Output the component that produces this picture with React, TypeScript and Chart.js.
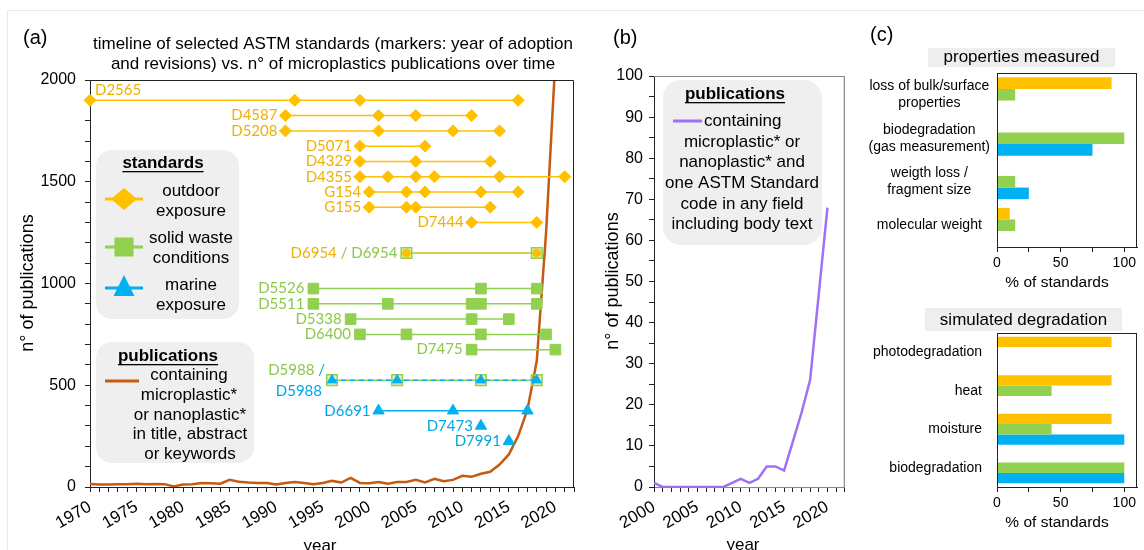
import React, { useEffect, useRef } from "react";
import { Chart, registerables } from "chart.js";

Chart.register(...registerables);

// ---------- DATA ----------
// (a) publications containing microplastic*/nanoplastic* per year
const pubYears = [
  1970, 1971, 1972, 1973, 1974, 1975, 1976, 1977, 1978, 1979,
  1980, 1981, 1982, 1983, 1984, 1985, 1986, 1987, 1988, 1989,
  1990, 1991, 1992, 1993, 1994, 1995, 1996, 1997, 1998, 1999,
  2000, 2001, 2002, 2003, 2004, 2005, 2006, 2007, 2008, 2009,
  2010, 2011, 2012, 2013, 2014, 2015, 2016, 2017, 2018, 2019, 2020,
];
const pubCounts = [
  15, 12, 12, 13, 14, 16, 14, 15, 14, 3,
  12, 14, 20, 18, 16, 35, 26, 22, 20, 20,
  12, 20, 24, 20, 14, 20, 30, 22, 45, 20,
  18, 25, 16, 25, 25, 35, 22, 40, 28, 35,
  55, 50, 65, 75, 110, 160, 250, 380, 620, 1250, 2100,
];

// (a) outdoor exposure standards
const outdoorCodes = ["D2565", "D4587", "D5208", "D5071", "D4329", "D4355", "G154", "G155", "D7444"];
const outdoorRows = [1900, 1825, 1750, 1675, 1600, 1525, 1450, 1375, 1300];
const outdoorYears = [
  [1970, 1992, 1999, 2016],
  [1991, 2001, 2005, 2011],
  [1991, 2001, 2009, 2014],
  [1999, 2006],
  [1999, 2005, 2013],
  [1999, 2002, 2005, 2007, 2014, 2021],
  [2000, 2004, 2006, 2012, 2016],
  [2000, 2004, 2005, 2013],
  [2011, 2018],
];
// shared outdoor / solid waste
const sharedOSCode = "D6954";
const sharedOSRow = 1150;
const sharedOSYears = [2004, 2018];
// solid waste conditions
const solidCodes = ["D5526", "D5511", "D5338", "D6400", "D7475"];
const solidRows = [975, 900, 825, 750, 675];
const solidYears = [
  [1994, 2012, 2018],
  [1994, 2002, 2011, 2012, 2018],
  [1998, 2011, 2015],
  [1999, 2004, 2012, 2019],
  [2011, 2020],
];
// shared solid waste / marine
const sharedSMCode = "D5988";
const sharedSMRow = 525;
const sharedSMYears = [1996, 2003, 2012, 2018];
// marine exposure
const marineCodes = ["D6691", "D7473", "D7991"];
const marineRows = [375, 300, 225];
const marineYears = [[2001, 2009, 2017], [2012], [2015]];

// (b) publications with an ASTM standard code
const bYears = [2000, 2001, 2002, 2003, 2004, 2005, 2006, 2007, 2008, 2009, 2010,
  2011, 2012, 2013, 2014, 2015, 2016, 2017, 2018, 2019, 2020];
const bCounts = [1, 0, 0, 0, 0, 0, 0, 0, 0, 1, 2, 1, 2, 5, 5, 4, 11, 18, 26, 47, 68];

// (c) properties measured
const propCategories = [["loss of bulk/surface", "properties"], ["biodegradation", "(gas measurement)"], ["weigth loss /", "fragment size"], ["molecular weight"]];
const propOutdoor = [90, 0, 0, 10];
const propSolid = [14.3, 100, 14.3, 14.3];
const propMarine = [0, 75, 25, 0];

// (c) simulated degradation
const simCategories = ["photodegradation", "heat", "moisture", "biodegradation"];
const simOutdoor = [90, 90, 90, 0];
const simSolid = [0, 42.9, 42.9, 100];
const simMarine = [0, 0, 100, 100];

// ---------- STYLE ----------
const SANS = "'Liberation Sans', Arial, sans-serif";
const CODEF = "Lato, 'Liberation Sans', sans-serif";
const ORANGE = "#FFC000";
const ORANGE_T = "#F0B000";
const GREEN = "#92D050";
const GREEN_T = "#8CC84B";
const BLUE = "#00B0F0";
const BLUE_T = "#00A6E6";
const BROWN = "#C55A11";
const PURPLE = "#A070F5";
const BOXG = "#EFEFEF";
const AXIS = "#222222";

Chart.defaults.font.family = SANS;
Chart.defaults.color = "#000";

function rr(ctx: any, x: number, y: number, w: number, h: number, r: number) {
  ctx.beginPath();
  ctx.moveTo(x + r, y);
  ctx.arcTo(x + w, y, x + w, y + h, r);
  ctx.arcTo(x + w, y + h, x, y + h, r);
  ctx.arcTo(x, y + h, x, y, r);
  ctx.arcTo(x, y, x + w, y, r);
  ctx.closePath();
}

function txt(ctx: any, s: string, x: number, y: number, font: string, color: string, align = "center") {
  ctx.font = font;
  ctx.fillStyle = color;
  ctx.textAlign = align;
  ctx.textBaseline = "middle";
  ctx.fillText(s, x, y);
  return ctx.measureText(s).width;
}

function uline(ctx: any, s: string, x: number, y: number, font: string) {
  const w = txt(ctx, s, x, y, font, "#000");
  ctx.fillRect(x - w / 2, y + 8, w, 1.3);
}

function vtxt(ctx: any, s: string, x: number, y: number, font: string) {
  ctx.save();
  ctx.translate(x, y);
  ctx.rotate(-Math.PI / 2);
  txt(ctx, s, 0, 0, font, "#000");
  ctx.restore();
}

function hline(ctx: any, x0: number, x1: number, y: number, color: string, w: number) {
  ctx.strokeStyle = color;
  ctx.lineWidth = w;
  ctx.beginPath();
  ctx.moveTo(x0, y);
  ctx.lineTo(x1, y);
  ctx.stroke();
}

const panelAPlugin = {
  id: "panelA",
  afterDatasetsDraw(chart: any) {
    const { ctx, chartArea: ca, scales } = chart;
    const xs = scales.x;
    const ys = scales.y;
    ctx.save();
    ctx.strokeStyle = AXIS;
    ctx.lineWidth = 1;
    ctx.beginPath();
    ctx.moveTo(ca.left, ca.top + 0.5);
    ctx.lineTo(ca.right - 0.5, ca.top + 0.5);
    ctx.lineTo(ca.right - 0.5, ca.bottom);
    ctx.stroke();

    const f = `15px ${CODEF}`;
    const px = (yr: number) => xs.getPixelForValue(yr);
    const py = (v: number) => ys.getPixelForValue(v);
    txt(ctx, outdoorCodes[0], px(outdoorYears[0][0]) + 5, py(outdoorRows[0]) - 10, f, ORANGE_T, "left");
    for (let i = 1; i < outdoorCodes.length; i++) {
      txt(ctx, outdoorCodes[i], px(outdoorYears[i][0]) - 8, py(outdoorRows[i]), f, ORANGE_T, "right");
    }
    // D6954 / D6954
    let x = px(sharedOSYears[0]) - 9;
    const y1 = py(sharedOSRow);
    x -= txt(ctx, sharedOSCode, x, y1, f, GREEN_T, "right");
    x -= txt(ctx, " / ", x, y1, f, GREEN_T, "right");
    txt(ctx, sharedOSCode, x, y1, f, ORANGE_T, "right");
    for (let i = 0; i < solidCodes.length; i++) {
      txt(ctx, solidCodes[i], px(solidYears[i][0]) - 9, py(solidRows[i]), f, GREEN_T, "right");
    }
    // D5988 / D5988
    let x2 = px(sharedSMYears[0]) - 7;
    const y2 = py(sharedSMRow);
    x2 -= txt(ctx, " /", x2, y2 - 10, f, BLUE_T, "right");
    txt(ctx, sharedSMCode, x2, y2 - 10, f, GREEN_T, "right");
    txt(ctx, sharedSMCode, px(sharedSMYears[0]) - 10, y2 + 11, f, BLUE_T, "right");
    for (let i = 0; i < marineCodes.length; i++) {
      txt(ctx, marineCodes[i], px(marineYears[i][0]) - 8, py(marineRows[i]), f, BLUE_T, "right");
    }
    ctx.restore();
  },
  afterDraw(chart: any) {
    const { ctx } = chart;
    ctx.save();
    txt(ctx, "(a)", 23, 38, `20px ${SANS}`, "#000", "left");
    txt(ctx, "timeline of selected ASTM standards (markers: year of adoption", 333, 44, `17px ${SANS}`, "#000");
    txt(ctx, "and revisions) vs. n° of microplastics publications over time", 333, 64, `17px ${SANS}`, "#000");
    vtxt(ctx, "n° of publications", 28, 283, `18px ${SANS}`);
    txt(ctx, "year", 320, 546, `17px ${SANS}`, "#000");

    const L = `17px ${SANS}`;
    const B = `bold 17px ${SANS}`;
    // standards legend
    ctx.fillStyle = BOXG;
    rr(ctx, 96, 150, 143, 169, 16);
    ctx.fill();
    uline(ctx, "standards", 163, 163, B);
    hline(ctx, 105, 143, 199, ORANGE, 3);
    ctx.fillStyle = ORANGE;
    ctx.beginPath();
    ctx.moveTo(124, 188); ctx.lineTo(137, 199); ctx.lineTo(124, 210); ctx.lineTo(111, 199);
    ctx.closePath(); ctx.fill();
    txt(ctx, "outdoor", 191, 191, L, "#000");
    txt(ctx, "exposure", 191, 211, L, "#000");
    hline(ctx, 105, 143, 247, GREEN, 3);
    ctx.fillStyle = GREEN;
    ctx.fillRect(114.5, 237.5, 19, 19);
    txt(ctx, "solid waste", 191, 238, L, "#000");
    txt(ctx, "conditions", 191, 258, L, "#000");
    hline(ctx, 105, 143, 288, BLUE, 3);
    ctx.fillStyle = BLUE;
    ctx.beginPath();
    ctx.moveTo(124, 275); ctx.lineTo(134.5, 296); ctx.lineTo(113.5, 296);
    ctx.closePath(); ctx.fill();
    txt(ctx, "marine", 191, 285, L, "#000");
    txt(ctx, "exposure", 191, 305, L, "#000");

    // publications legend
    ctx.fillStyle = BOXG;
    rr(ctx, 96, 342, 158, 121, 16);
    ctx.fill();
    uline(ctx, "publications", 168, 356, B);
    hline(ctx, 105, 139, 381, BROWN, 3);
    txt(ctx, "containing", 189, 375, L, "#000");
    txt(ctx, "microplastic*", 189, 395, L, "#000");
    txt(ctx, "or nanoplastic*", 190, 415, L, "#000");
    txt(ctx, "in title, abstract", 190, 434, L, "#000");
    txt(ctx, "or keywords", 190, 454, L, "#000");
    ctx.restore();
  },
};

const panelBPlugin = {
  id: "panelB",
  afterDatasetsDraw(chart: any) {
    const { ctx, chartArea: ca } = chart;
    ctx.save();
    ctx.strokeStyle = "#888";
    ctx.lineWidth = 1.2;
    ctx.beginPath();
    ctx.moveTo(ca.left, ca.top + 0.5);
    ctx.lineTo(ca.right - 0.5, ca.top + 0.5);
    ctx.lineTo(ca.right - 0.5, ca.bottom);
    ctx.stroke();
    ctx.restore();
  },
  afterDraw(chart: any) {
    const { ctx } = chart;
    ctx.save();
    txt(ctx, "(b)", 13, 38, `20px ${SANS}`, "#000", "left");
    vtxt(ctx, "n° of publications", 13, 281, `18px ${SANS}`);
    txt(ctx, "year", 143, 545, `17px ${SANS}`, "#000");
    const L = `17px ${SANS}`;
    ctx.fillStyle = BOXG;
    rr(ctx, 63, 80, 159, 165, 18);
    ctx.fill();
    uline(ctx, "publications", 135, 94, `bold 17px ${SANS}`);
    hline(ctx, 73, 102, 121, PURPLE, 3);
    txt(ctx, "containing", 104, 121, L, "#000", "left");
    txt(ctx, "microplastic* or", 142, 142, L, "#000");
    txt(ctx, "nanoplastic* and", 142, 162.5, L, "#000");
    txt(ctx, "one ASTM Standard", 142, 183, L, "#000");
    txt(ctx, "code in any field", 142, 204, L, "#000");
    txt(ctx, "including body text", 142, 224.5, L, "#000");
    ctx.restore();
  },
};

function makeCPlugin(id: string, title: string, box: number[], titleY: number, axisTitleY: number, letter: boolean) {
  return {
    id,
    afterDatasetsDraw(chart: any) {
      const { ctx, chartArea: ca } = chart;
      ctx.save();
      ctx.strokeStyle = AXIS;
      ctx.lineWidth = 1;
      ctx.strokeRect(ca.left + 0.5, ca.top + 0.5, ca.right - ca.left - 1, ca.bottom - ca.top);
      ctx.restore();
    },
    afterDraw(chart: any) {
      const { ctx } = chart;
      ctx.save();
      if (letter) txt(ctx, "(c)", 10, 35, `20px ${SANS}`, "#000", "left");
      ctx.fillStyle = "#EEEEEE";
      ctx.fillRect(box[0], box[1], box[2], box[3]);
      txt(ctx, title, box[0] + box[2] / 2, titleY, `17px ${SANS}`, "#000");
      txt(ctx, "% of standards", 197, axisTitleY, `15.5px ${SANS}`, "#000");
      ctx.restore();
    },
  };
}

function yearTickScale(min: number, max: number, height: number) {
  return {
    type: "linear",
    min,
    max,
    afterFit: (s: any) => { s.height = height; },
    ticks: {
      stepSize: 1,
      autoSkip: false,
      minRotation: 30,
      maxRotation: 30,
      padding: 5,
      color: "#000",
      font: { size: 17 },
      callback: (v: any) => (v % 5 === 0 && v <= 2020 ? String(v) : ""),
    },
    grid: { drawOnChartArea: false, drawTicks: true, tickLength: 5, tickColor: AXIS },
    border: { color: AXIS },
  };
}

function stdDataset(years: number[], row: number, color: string, style: string, radius: number, extra: any = {}) {
  return {
    data: years.map((yr) => ({ x: yr, y: row })),
    borderColor: color,
    backgroundColor: color,
    borderWidth: 1.5,
    pointStyle: style,
    pointRadius: radius,
    pointHoverRadius: radius,
    pointBackgroundColor: color,
    pointBorderColor: color,
    pointBorderWidth: 1,
    clip: false,
    order: 2,
    ...extra,
  };
}

function barConfig(labels: any[], o: number[], s: number[], m: number[], topPad: number, xHeight: number, crossAlign: string, tickPad: number, plugin: any) {
  return {
    type: "bar",
    data: {
      labels,
      datasets: [
        { data: o, backgroundColor: ORANGE, borderWidth: 0 },
        { data: s, backgroundColor: GREEN, borderWidth: 0 },
        { data: m, backgroundColor: BLUE, borderWidth: 0 },
      ],
    },
    options: {
      indexAxis: "y",
      responsive: false,
      animation: false,
      events: [],
      datasets: { bar: { barPercentage: 1, categoryPercentage: 0.8 } },
      layout: { padding: { top: topPad, right: 7, left: 0, bottom: 0 } },
      plugins: { legend: { display: false }, tooltip: { enabled: false } },
      scales: {
        x: {
          min: 0,
          max: 110,
          afterFit: (sc: any) => { sc.height = xHeight; },
          ticks: {
            stepSize: 25,
            includeBounds: false,
            maxRotation: 0,
            padding: 3,
            color: "#000",
            font: { size: 14 },
            callback: (v: any) => (v % 50 === 0 ? String(v) : ""),
          },
          grid: { drawOnChartArea: false, tickLength: 5, tickColor: AXIS },
          border: { color: AXIS },
        },
        y: {
          afterFit: (sc: any) => { sc.width = 137; },
          ticks: { color: "#000", font: { size: 14 }, crossAlign, padding: tickPad },
          grid: { display: false, drawTicks: false },
          border: { color: AXIS },
        },
      },
    },
    plugins: [plugin],
  };
}

export default function App() {
  const aRef = useRef<HTMLCanvasElement>(null);
  const bRef = useRef<HTMLCanvasElement>(null);
  const c1Ref = useRef<HTMLCanvasElement>(null);
  const c2Ref = useRef<HTMLCanvasElement>(null);

  useEffect(() => {
    const charts: Chart[] = [];

    const aDatasets: any[] = [
      {
        data: pubYears.map((yr, i) => ({ x: yr, y: pubCounts[i] })),
        borderColor: BROWN,
        borderWidth: 2.5,
        pointRadius: 0,
        order: 5,
      },
      ...outdoorYears.map((ys, i) => stdDataset(ys, outdoorRows[i], ORANGE, "rectRot", 6)),
      stdDataset(sharedOSYears, sharedOSRow, GREEN, "rect", 7.5, { pointBackgroundColor: "rgba(146,208,80,0.3)", pointBorderWidth: 1.5, order: 3 }),
      stdDataset(sharedOSYears, sharedOSRow, ORANGE, "circle", 4, { borderDash: [5, 4], order: 1 }),
      ...solidYears.map((ys, i) => stdDataset(ys, solidRows[i], GREEN, "rect", 7.5)),
      stdDataset(sharedSMYears, sharedSMRow, GREEN, "rect", 7.5, { pointBackgroundColor: "rgba(146,208,80,0.3)", pointBorderWidth: 1.5, order: 3 }),
      stdDataset(sharedSMYears, sharedSMRow, BLUE, "triangle", 5.5, { borderDash: [5, 4], order: 1 }),
      ...marineYears.map((ys, i) => stdDataset(ys, marineRows[i], BLUE, "triangle", 6.5)),
    ];

    charts.push(
      new Chart(aRef.current as HTMLCanvasElement, {
        type: "line",
        data: { datasets: aDatasets },
        options: {
          responsive: false,
          animation: false,
          events: [],
          layout: { padding: { top: 80, right: 26, left: 0, bottom: 0 } },
          plugins: { legend: { display: false }, tooltip: { enabled: false } },
          scales: {
            x: yearTickScale(1970, 2022, 63) as any,
            y: {
              min: 0,
              max: 2000,
              afterFit: (s: any) => { s.width = 90; },
              ticks: {
                stepSize: 100,
                autoSkip: false,
                padding: 9,
                color: "#000",
                font: { size: 16 },
                callback: (v: any) => (v % 500 === 0 ? String(v) : ""),
              },
              grid: { drawOnChartArea: false, tickLength: 5, tickColor: AXIS },
              border: { color: AXIS },
            },
          },
        },
        plugins: [panelAPlugin],
      } as any)
    );

    charts.push(
      new Chart(bRef.current as HTMLCanvasElement, {
        type: "line",
        data: {
          datasets: [
            {
              data: bYears.map((yr, i) => ({ x: yr, y: bCounts[i] })),
              borderColor: PURPLE,
              borderWidth: 2.5,
              pointRadius: 0,
            },
          ],
        },
        options: {
          responsive: false,
          animation: false,
          events: [],
          layout: { padding: { top: 76, right: 12, left: 0, bottom: 0 } },
          plugins: { legend: { display: false }, tooltip: { enabled: false } },
          scales: {
            x: { ...(yearTickScale(2000, 2022, 63) as any), border: { color: "#888" } },
            y: {
              min: 0,
              max: 100,
              afterFit: (s: any) => { s.width = 54; },
              ticks: {
                stepSize: 5,
                autoSkip: false,
                padding: 6,
                color: "#000",
                font: { size: 16 },
                callback: (v: any) => (v % 10 === 0 ? String(v) : ""),
              },
              grid: { drawOnChartArea: false, tickLength: 5, tickColor: AXIS },
              border: { color: AXIS },
            },
          },
        },
        plugins: [panelBPlugin],
      } as any)
    );

    charts.push(
      new Chart(
        c1Ref.current as HTMLCanvasElement,
        barConfig(propCategories, propOutdoor, propSolid, propMarine, 73, 43, "center", 7,
          makeCPlugin("c1", "properties measured", [68, 48, 187, 19], 57, 283, true)) as any
      )
    );
    charts.push(
      new Chart(
        c2Ref.current as HTMLCanvasElement,
        barConfig(simCategories, simOutdoor, simSolid, simMarine, 43, 63, "near", 15,
          makeCPlugin("c2", "simulated degradation", [65, 18, 197, 23], 30.5, 233, false)) as any
      )
    );

    return () => charts.forEach((c) => c.destroy());
  }, []);

  const abs = (left: number, top: number, w: number, h: number): React.CSSProperties => ({
    position: "absolute", left, top, width: w, height: h, display: "block",
  });

  return (
    <div style={{ position: "fixed", left: 0, top: 0, width: 1144, height: 550, background: "#fff", overflow: "hidden" }}>
      <div style={{ position: "absolute", left: 7, top: 10, right: 0, bottom: 0, borderTop: "1px solid #e8e8e8", borderLeft: "1px solid #e8e8e8" }} />
      <canvas ref={aRef} width={600} height={550} style={abs(0, 0, 600, 550)} />
      <canvas ref={bRef} width={260} height={550} style={abs(600, 0, 260, 550)} />
      <canvas ref={c1Ref} width={284} height={290} style={abs(860, 0, 284, 290)} />
      <canvas ref={c2Ref} width={284} height={260} style={abs(860, 290, 284, 260)} />
    </div>
  );
}
